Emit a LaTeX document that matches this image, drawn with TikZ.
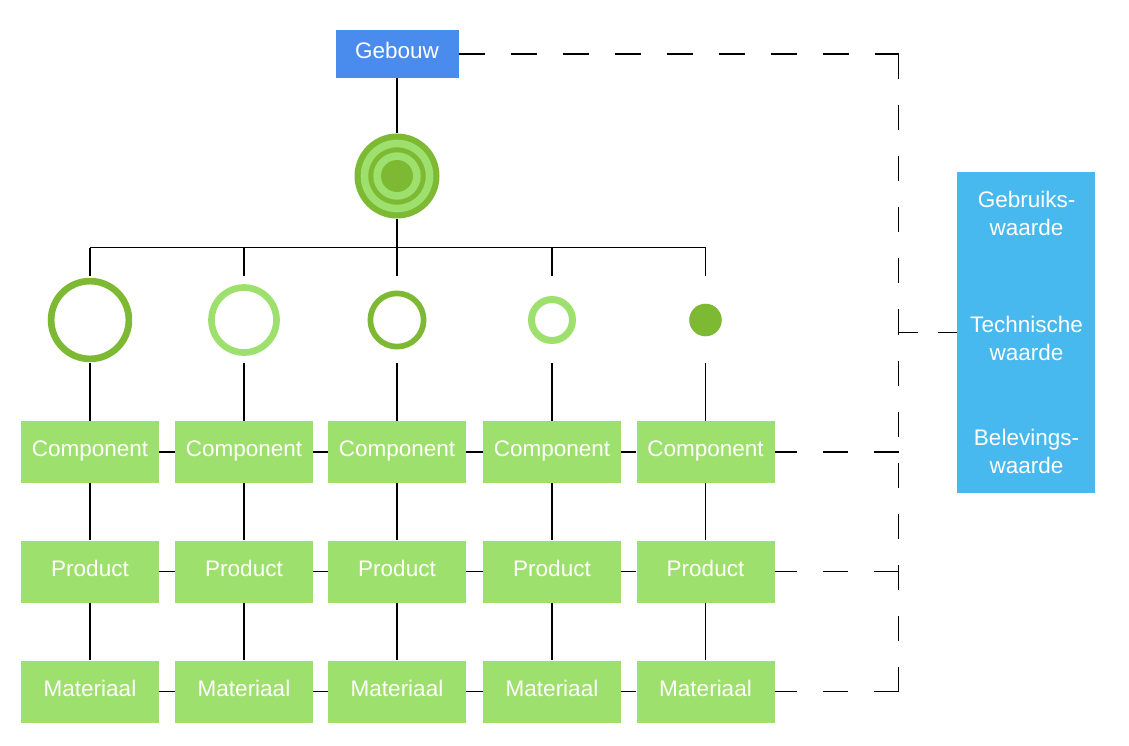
\documentclass[tikz,border=0pt]{standalone}
\usepackage{fontspec}
\setmainfont{Liberation Sans}
\definecolor{gblue}{RGB}{74,139,238}
\definecolor{lblue}{RGB}{71,185,239}
\definecolor{dgreen}{RGB}{125,185,50}
\definecolor{lgreen}{RGB}{158,224,110}
\begin{document}
\begin{tikzpicture}[x=1pt,y=-1pt,
  conn/.style={line width=1.5pt, black},
  dashline/.style={line width=1.5pt, black, dash pattern=on 25pt off 26pt},
  boxtext/.style={text=white, font=\fontsize{22.5}{28}\selectfont},
  greenbox/.style={boxtext, fill=lgreen, minimum width=138pt, minimum height=62pt, inner sep=0pt, text height=16pt, text depth=6.5pt},
  bluebox/.style={boxtext, fill=gblue, minimum width=123pt, minimum height=48pt, inner sep=0pt, text height=16pt, text depth=6.5pt},
  valtext/.style={boxtext, align=center, inner sep=0pt},
  ring/.style={circle, inner sep=0pt, fill=none}
]
\useasboundingbox (0,0) rectangle (1129,745);

% top
\node[bluebox] (geb) at (397,54) {Gebouw};
\node[circle, fill=dgreen, minimum size=85pt, inner sep=0pt] (target) at (397,176) {};
\fill[lgreen] (target.center) circle[radius=36.3pt];
\fill[dgreen] (target.center) circle[radius=28.7pt];
\fill[lgreen] (target.center) circle[radius=23.7pt];
\fill[dgreen] (target.center) circle[radius=16pt];

% value box
\node[fill=lblue, minimum width=138pt, minimum height=321pt, inner sep=0pt] (vbox) at (1026,332.5) {};
\node[valtext] (v1) at (1026.5,213) {Gebruiks-\\waarde};
\node[valtext] (v2) at (1026.5,338) {Technische\\waarde};
\node[valtext] (v3) at (1026.5,451) {Belevings-\\waarde};

% second-level circles
\node[ring, draw=dgreen, line width=6.7pt, minimum size=77.8pt] (k1) at (90,320) {};
\node[ring, draw=lgreen, line width=6.7pt, minimum size=65pt] (k2) at (244,320) {};
\node[ring, draw=dgreen, line width=5.7pt, minimum size=53.3pt] (k3) at (397,320) {};
\node[ring, draw=lgreen, line width=7pt, minimum size=41pt] (k4) at (552,320) {};
\node[circle, inner sep=0pt, fill=dgreen, minimum size=32.6pt] (k5) at (705.5,320) {};

% grid of boxes
\foreach \i/\x in {1/90,2/244,3/397,4/552,5/705.5} {
  \coordinate (b\i) at (\x,247.5);
  \coordinate (t\i) at (\x,276);
  \coordinate (u\i) at (\x,363);
  \node[greenbox] (c\i) at (\x,452) {Component};
  \node[greenbox] (p\i) at (\x,571.5) {Product};
  \node[greenbox] (m\i) at (\x,691.5) {Materiaal};
}

% solid connectors
\draw[conn] (geb.south) -- (target.north);
\draw[conn] (target.south) -- (b3);
\draw[conn] (b1) -- (b5);
\foreach \i in {1,...,5} {
  \draw[conn] (b\i) -- (t\i);
  \draw[conn] (u\i) -- (c\i.north);
  \draw[conn] (c\i.south) -- (p\i.north);
  \draw[conn] (p\i.south) -- (m\i.north);
}
\foreach \i/\j in {1/2,2/3,3/4,4/5} {
  \draw[conn] (c\i.east) -- (c\j.west);
  \draw[conn] (p\i.east) -- (p\j.west);
  \draw[conn] (m\i.east) -- (m\j.west);
}

% dashed connectors
\coordinate (dc) at (898.5,332.5);
\coordinate (dtop) at (geb.east -| dc);
\coordinate (dbot) at (m5.east -| dc);
\draw[dashline, dash pattern=on 26pt off 26pt] (geb.east) -- (dtop);
\draw[dashline] (dtop) -- (dc);
\draw[dashline, dash pattern=on 19pt off 20pt] (dc) -- (vbox.west);
\draw[dashline] (dbot) -- (dc);
\draw[dashline] (dbot) -- (m5.east);
\draw[dashline] (p5.east -| dc) -- (p5.east);
\draw[dashline] (c5.east -| dc) -- (c5.east);
\end{tikzpicture}
\end{document}
